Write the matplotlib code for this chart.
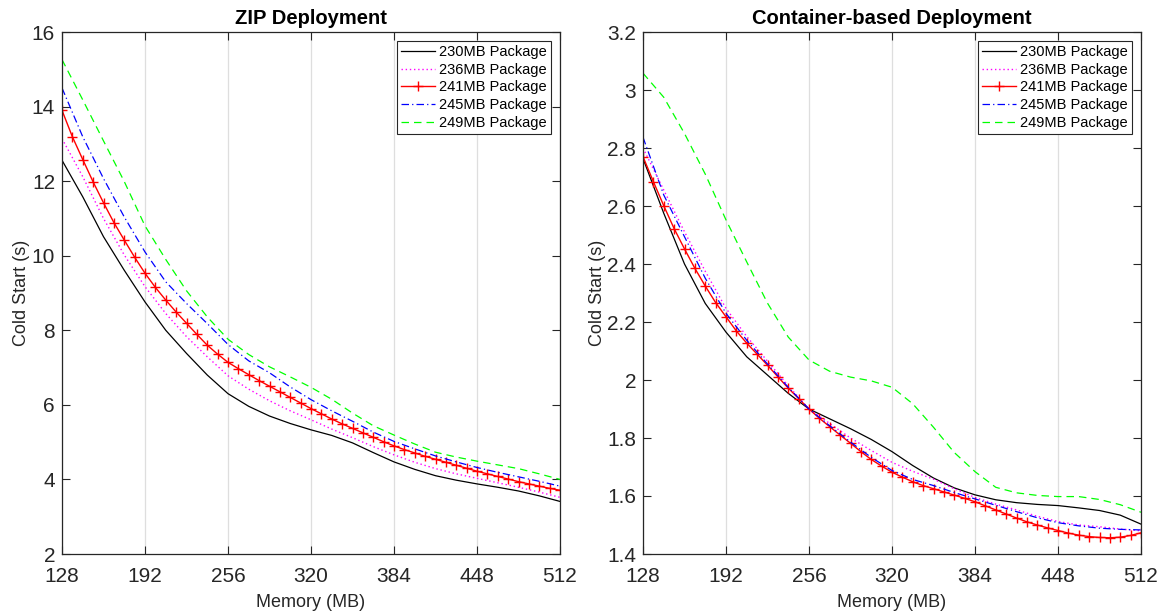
import numpy as np
import matplotlib
matplotlib.use("Agg")
import matplotlib.pyplot as plt
from matplotlib.ticker import FuncFormatter

plt.rcParams['font.family'] = ['Liberation Sans', 'DejaVu Sans']

# ---------------- data ----------------
mem16 = list(range(128, 513, 16))   # sample points for most series
mem8 = list(range(128, 513, 8))     # sample points for 241MB series

labels = ["230MB Package", "236MB Package", "241MB Package", "245MB Package", "249MB Package"]

# ZIP deployment (left)
zip_230 = [12.56, 11.58, 10.51, 9.61, 8.76, 8.00, 7.38, 6.80, 6.30, 5.96, 5.70, 5.50, 5.33,
           5.18, 4.98, 4.72, 4.47, 4.27, 4.10, 3.98, 3.88, 3.79, 3.69, 3.56, 3.41]
zip_236 = [13.14, 12.12, 11.00, 10.02, 9.17, 8.45, 7.83, 7.29, 6.78, 6.42, 6.11, 5.84, 5.60,
           5.35, 5.12, 4.88, 4.66, 4.46, 4.29, 4.15, 4.03, 3.91, 3.79, 3.66, 3.52]
zip_241 = [13.90, 13.19, 12.58, 11.98, 11.42, 10.89, 10.42, 9.96, 9.53, 9.15, 8.81, 8.49, 8.19,
           7.89, 7.60, 7.36, 7.14, 6.97, 6.81, 6.65, 6.50, 6.35, 6.20, 6.05, 5.90, 5.76, 5.62,
           5.49, 5.37, 5.25, 5.13, 5.01, 4.90, 4.80, 4.71, 4.62, 4.54, 4.46, 4.38, 4.30, 4.22,
           4.15, 4.08, 4.01, 3.94, 3.88, 3.82, 3.76, 3.71]
zip_245 = [14.50, 13.19, 12.07, 11.04, 10.10, 9.30, 8.72, 8.18, 7.62, 7.18, 6.86, 6.48, 6.14,
           5.84, 5.56, 5.27, 5.02, 4.82, 4.63, 4.47, 4.32, 4.19, 4.07, 3.95, 3.82]
zip_249 = [15.26, 14.18, 13.08, 11.99, 10.80, 9.90, 9.06, 8.36, 7.76, 7.35, 7.02, 6.75, 6.47,
           6.15, 5.78, 5.44, 5.19, 4.95, 4.73, 4.60, 4.49, 4.39, 4.29, 4.15, 4.00]

# Container-based deployment (right)
con_230 = [2.764, 2.575, 2.400, 2.264, 2.165, 2.080, 2.017, 1.954, 1.900, 1.866, 1.832, 1.795,
           1.753, 1.705, 1.662, 1.628, 1.604, 1.587, 1.577, 1.571, 1.567, 1.559, 1.550, 1.534, 1.503]
con_236 = [2.800, 2.655, 2.511, 2.375, 2.247, 2.150, 2.065, 1.980, 1.900, 1.850, 1.800, 1.757,
           1.716, 1.685, 1.658, 1.625, 1.595, 1.572, 1.552, 1.530, 1.512, 1.500, 1.494, 1.486, 1.480]
con_241 = [2.770, 2.684, 2.601, 2.522, 2.452, 2.385, 2.324, 2.267, 2.218, 2.169, 2.127, 2.089,
           2.051, 2.011, 1.972, 1.936, 1.900, 1.868, 1.839, 1.810, 1.782, 1.753, 1.726, 1.703,
           1.682, 1.665, 1.649, 1.636, 1.625, 1.614, 1.603, 1.592, 1.580, 1.566, 1.552, 1.538,
           1.524, 1.511, 1.500, 1.490, 1.481, 1.472, 1.465, 1.460, 1.457, 1.456, 1.458, 1.464, 1.473]
con_245 = [2.837, 2.638, 2.494, 2.351, 2.230, 2.137, 2.055, 1.975, 1.900, 1.842, 1.786, 1.733,
           1.688, 1.657, 1.636, 1.612, 1.590, 1.568, 1.546, 1.525, 1.508, 1.497, 1.489, 1.485, 1.483]
con_249 = [3.058, 2.975, 2.850, 2.710, 2.552, 2.407, 2.265, 2.148, 2.069, 2.030, 2.010, 1.997,
           1.975, 1.918, 1.837, 1.750, 1.684, 1.630, 1.611, 1.602, 1.598, 1.598, 1.588, 1.570, 1.544]

xticks = [128, 192, 256, 320, 384, 448, 512]

# ---------------- figure ----------------
fig = plt.figure(figsize=(11.66, 6.13), dpi=100)
axL = fig.add_axes([62 / 1166, 59 / 613, 498 / 1166, 522 / 613])
axR = fig.add_axes([643 / 1166, 59 / 613, 498 / 1166, 522 / 613])

tick_color = '#262626'

def draw(ax, s230, s236, s241, s245, s249):
    ax.plot(mem16, s230, color='black', lw=0.9, label=labels[0])
    ax.plot(mem16, s236, color='#FF00FF', lw=1.0, linestyle=(0, (1, 2)), label=labels[1])
    ax.plot(mem8, s241, color='#FF0000', lw=1.0, marker='+', markersize=6.5, mew=1.0, label=labels[2])
    ax.plot(mem16, s245, color='#0000FF', lw=0.9, linestyle=(0, (6, 2.5, 1, 2.5)), label=labels[3])
    ax.plot(mem16, s249, color='#00FF00', lw=0.9, linestyle=(0, (6, 4)), label=labels[4])

def style(ax, ylim, yticks, title, fmt):
    ax.set_xlim(128, 512)
    ax.set_ylim(*ylim)
    ax.set_xticks(xticks)
    ax.set_yticks(yticks)
    ax.yaxis.set_major_formatter(FuncFormatter(fmt))
    ax.tick_params(axis='both', which='both', direction='in', length=6, width=0.8,
                   top=True, right=True, labelsize=15, labelcolor=tick_color, color=tick_color)
    ax.tick_params(axis='x', pad=9)
    ax.tick_params(axis='y', pad=5)
    ax.grid(True, axis='x', color='#dedede', lw=0.9)
    ax.set_axisbelow(True)
    for sp in ax.spines.values():
        sp.set_linewidth(0.9)
        sp.set_color(tick_color)
    ax.set_xlabel("Memory (MB)", fontsize=13, color=tick_color, labelpad=6)
    ax.set_ylabel("Cold Start (s)", fontsize=13, color=tick_color, labelpad=1)
    ax.set_title(title, fontsize=14.5, fontweight='bold', pad=6)
    leg = ax.legend(loc='upper right', fontsize=10.5, frameon=True, fancybox=False,
                    edgecolor='#262626', framealpha=1, handlelength=2.3, handletextpad=0.3,
                    labelspacing=0.25, borderpad=0.3, borderaxespad=0.6)
    leg.get_frame().set_linewidth(0.8)

draw(axL, zip_230, zip_236, zip_241, zip_245, zip_249)
draw(axR, con_230, con_236, con_241, con_245, con_249)

style(axL, (2, 16), [2, 4, 6, 8, 10, 12, 14, 16], "ZIP Deployment",
      lambda v, p: f"{v:g}")
style(axR, (1.4, 3.2), [1.4, 1.6, 1.8, 2.0, 2.2, 2.4, 2.6, 2.8, 3.0, 3.2], "Container-based Deployment",
      lambda v, p: f"{round(v, 2):g}")

fig.savefig("out.png", dpi=100)
